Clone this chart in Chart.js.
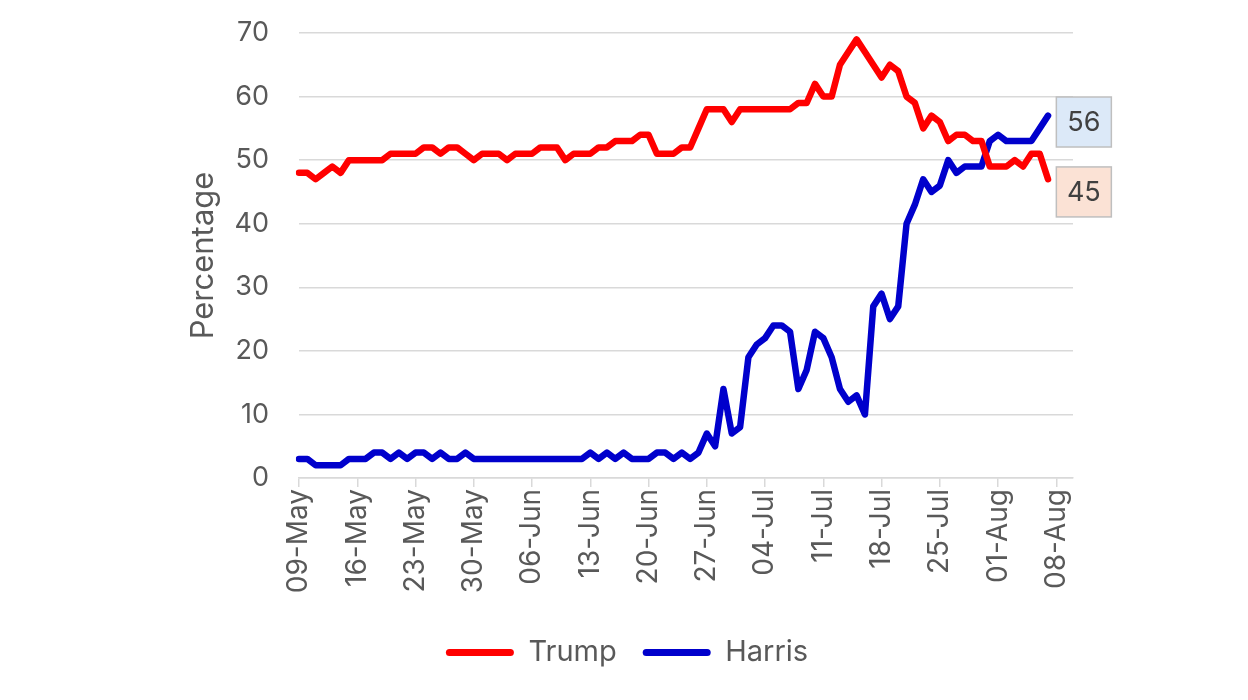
<!DOCTYPE html>
<html>
<head>
<meta charset="utf-8">
<script src="https://cdn.jsdelivr.net/npm/chart.js@4"></script>
<style>
  html, body { margin: 0; padding: 0; background: #ffffff; }
  #wrap { width: 1248px; height: 700px; position: relative; }
</style>
</head>
<body>
<div id="wrap"><canvas id="c"></canvas></div>
<script>
// Categories: daily dates (axis runs a little past the last data point)
const categories = [
  '09-May','10-May','11-May','12-May','13-May','14-May','15-May','16-May','17-May','18-May',
  '19-May','20-May','21-May','22-May','23-May','24-May','25-May','26-May','27-May','28-May',
  '29-May','30-May','31-May',
  '01-Jun','02-Jun','03-Jun','04-Jun','05-Jun','06-Jun','07-Jun','08-Jun','09-Jun','10-Jun',
  '11-Jun','12-Jun','13-Jun','14-Jun','15-Jun','16-Jun','17-Jun','18-Jun','19-Jun','20-Jun',
  '21-Jun','22-Jun','23-Jun','24-Jun','25-Jun','26-Jun','27-Jun','28-Jun','29-Jun','30-Jun',
  '01-Jul','02-Jul','03-Jul','04-Jul','05-Jul','06-Jul','07-Jul','08-Jul','09-Jul','10-Jul',
  '11-Jul','12-Jul','13-Jul','14-Jul','15-Jul','16-Jul','17-Jul','18-Jul','19-Jul','20-Jul',
  '21-Jul','22-Jul','23-Jul','24-Jul','25-Jul','26-Jul','27-Jul','28-Jul','29-Jul','30-Jul',
  '31-Jul',
  '01-Aug','02-Aug','03-Aug','04-Aug','05-Aug','06-Aug','07-Aug','08-Aug','09-Aug','10-Aug'
];

// Tick labels shown on the x axis
const xTickLabels = ['09-May','16-May','23-May','30-May','06-Jun','13-Jun','20-Jun',
  '27-Jun','04-Jul','11-Jul','18-Jul','25-Jul','01-Aug','08-Aug'];

// Series values (percentage)
const trump = [
  48,48,47,48,49,48,50,50,50,50,
  50,51,51,51,51,52,52,51,52,52,
  51,50,51,51,51,50,51,51,51,52,
  52,52,50,51,51,51,52,52,53,53,
  53,54,54,51,51,51,52,52,55,58,
  58,58,56,58,58,58,58,58,58,58,
  59,59,62,60,60,65,67,69,67,65,
  63,65,64,60,59,55,57,56,53,54,
  54,53,53,49,49,49,50,49,51,51,
  47
];
const harris = [
  3,3,2,2,2,2,3,3,3,4,
  4,3,4,3,4,4,3,4,3,3,
  4,3,3,3,3,3,3,3,3,3,
  3,3,3,3,3,4,3,4,3,4,
  3,3,3,4,4,3,4,3,4,7,
  5,14,7,8,19,21,22,24,24,23,
  14,17,23,22,19,14,12,13,10,27,
  29,25,27,40,43,47,45,46,50,48,
  49,49,49,53,54,53,53,53,53,55,
  57
];

// End-of-series value labels
const seriesNames = ['Trump','Harris'];
const endLabelDate = '08-Aug';
const endLabelValues = [45, 56];

// Y ticks
const yTicks = [0,10,20,30,40,50,60,70];

const FONT = 'Inter, "Noto Sans", "DejaVu Sans", sans-serif';
const TEXT = '#595959';
const GRID = '#d9d9d9';

const endLabelPlugin = {
  id: 'endLabels',
  afterDatasetsDraw(chart) {
    const { ctx, scales: { x, y } } = chart;
    const xi = x.getPixelForValue(categories.indexOf(endLabelDate));
    const fills = ['#fbe2d5', '#dce9f8'];
    ctx.save();
    seriesNames.forEach((name, k) => {
      const yc = y.getPixelForValue(endLabelValues[k]);
      const w = 55, h = 50;
      ctx.fillStyle = fills[k];
      ctx.fillRect(xi, yc - h / 2, w, h);
      ctx.strokeStyle = '#bfbfbf';
      ctx.lineWidth = 1.5;
      ctx.strokeRect(xi, yc - h / 2, w, h);
      ctx.fillStyle = '#404040';
      ctx.font = '27px ' + FONT;
      ctx.textAlign = 'center';
      ctx.textBaseline = 'middle';
      ctx.fillText(String(endLabelValues[k]), xi + w / 2, yc + 1);
    });
    ctx.restore();
  }
};

new Chart(document.getElementById('c'), {
  type: 'line',
  data: {
    labels: categories,
    datasets: [
      { label: seriesNames[0], data: trump, borderColor: '#ff0000', backgroundColor: '#ff0000',
        borderWidth: 6.5, pointRadius: 0, tension: 0, borderJoinStyle: 'round', borderCapStyle: 'round' },
      { label: seriesNames[1], data: harris, borderColor: '#0000cc', backgroundColor: '#0000cc',
        borderWidth: 6.5, pointRadius: 0, tension: 0, borderJoinStyle: 'round', borderCapStyle: 'round' }
    ]
  },
  options: {
    responsive: true,
    maintainAspectRatio: false,
    animation: false,
    layout: { padding: { left: 181, right: 175, top: 33, bottom: 23 } },
    plugins: {
      tooltip: { enabled: false },
      legend: {
        position: 'bottom',
        labels: {
          font: { family: FONT, size: 29 },
          color: TEXT,
          boxWidth: 68,
          boxHeight: 7,
          padding: 26,
          useBorderRadius: true,
          borderRadius: 3.5,
          generateLabels(chart) {
            const items = Chart.defaults.plugins.legend.labels.generateLabels(chart);
            items.forEach(it => { it.lineWidth = 0; it.fillStyle = it.strokeStyle; it.borderRadius = 3.5; });
            return items;
          }
        }
      }
    },
    scales: {
      x: {
        type: 'category',
        offset: false,
        grid: { display: true, drawOnChartArea: false, drawTicks: true, tickLength: 9, color: GRID, lineWidth: 1.5 },
        border: { display: true, color: GRID, width: 1.5 },
        ticks: {
          autoSkip: false,
          maxRotation: 90,
          minRotation: 90,
          padding: 2,
          color: TEXT,
          font: { family: FONT, size: 28 },
          callback(value) {
            const lab = categories[value];
            return xTickLabels.includes(lab) ? lab : null;
          }
        },
        afterFit(scale) { scale.height = 134; }
      },
      y: {
        min: 0,
        max: 70,
        afterBuildTicks(scale) { scale.ticks = yTicks.map(v => ({ value: v })); },
        grid: { color: GRID, lineWidth: 1.5, drawTicks: true, tickLength: 30, tickColor: 'rgba(0,0,0,0)' },
        border: { display: false },
        ticks: { padding: 0, color: TEXT, font: { family: FONT, size: 27 } },
        title: { display: true, text: 'Percentage', color: TEXT, font: { family: FONT, size: 31 }, padding: { top: 4, bottom: 4 } },
        afterFit(scale) { scale.width = 118; }
      }
    }
  },
  plugins: [endLabelPlugin]
});
</script>
</body>
</html>
